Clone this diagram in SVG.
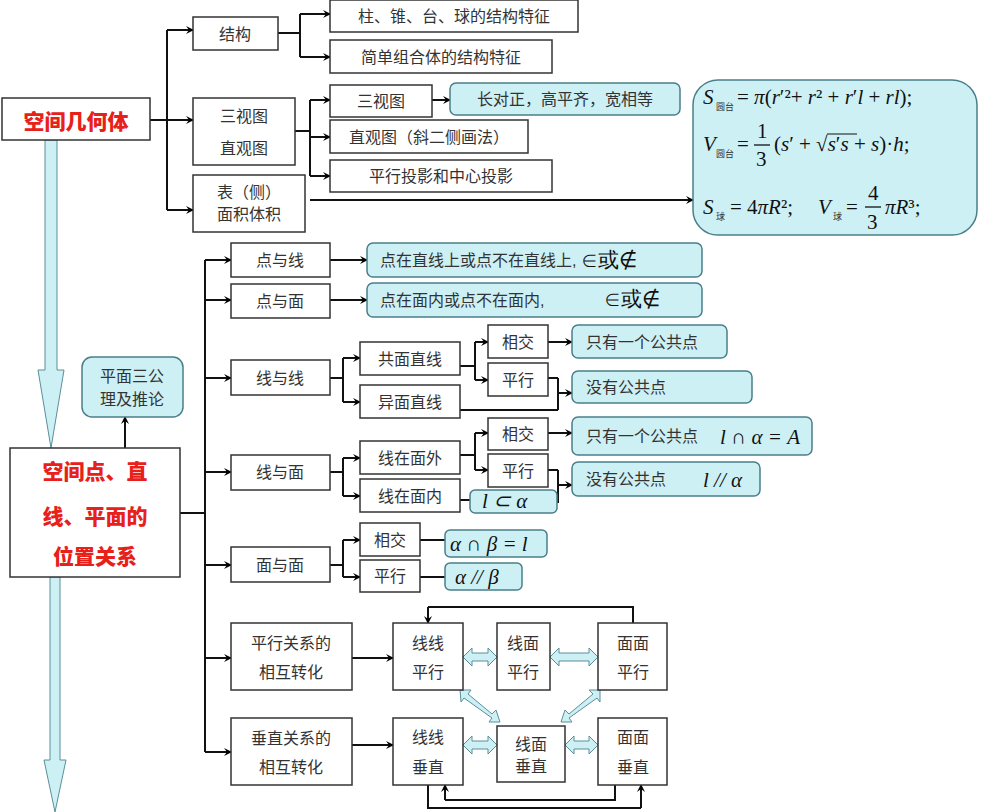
<svg xmlns="http://www.w3.org/2000/svg" width="1000" height="812" viewBox="0 0 1000 812">
<defs>
<marker id="ah" markerWidth="10" markerHeight="10" refX="8" refY="5" orient="auto" markerUnits="userSpaceOnUse">
<path d="M1,1 L9,5 L1,9 L4,5 Z" fill="#000"/>
</marker>
<style>
.b{fill:#fff;stroke:#333;stroke-width:1.5}
.c{fill:#cdf0f5;stroke:#4a7f8a;stroke-width:1.5}
.t{font-family:"Liberation Sans","Noto Sans CJK SC",sans-serif;font-size:16px;fill:#333;text-anchor:middle;dominant-baseline:central}
.tl{font-family:"Liberation Sans","Noto Sans CJK SC",sans-serif;font-size:16px;fill:#333;dominant-baseline:central}
.r{font-family:"Noto Sans CJK SC",sans-serif;font-weight:900;font-size:21px;fill:#e8201a;text-anchor:middle;dominant-baseline:central}
.m{font-family:"Liberation Serif",serif;font-style:italic;font-size:21px;fill:#111}
.mn{font-family:"Liberation Serif",serif;font-size:21px;fill:#111}
.sub{font-family:"Noto Sans CJK SC",sans-serif;font-size:9px;fill:#333}
.l{fill:none;stroke:#111;stroke-width:2}
.la{fill:none;stroke:#111;stroke-width:2;marker-end:url(#ah)}
.ba{fill:#cdf0f5;stroke:#5a8f9a;stroke-width:1}
</style>
</defs>

<g id="bigarrows">
<path class="ba" d="M45,140 L57,140 L57,370 L64,370 L51,448 L38,370 L45,370 Z"/>
<path class="ba" d="M50,577 L60,577 L60,760 L66,760 L55,812 L44,760 L50,760 Z"/>
</g>

<g id="connectors">
<path class="l" d="M150,120 H167 M167,30 V210"/>
<path class="la" d="M167,30 H193"/><path class="la" d="M167,120 H193"/><path class="la" d="M167,210 H193"/>
<path class="l" d="M278,33 H300 M300,14 V57"/>
<path class="la" d="M300,14 H330"/><path class="la" d="M300,57 H330"/>
<path class="l" d="M295,131 H310 M310,100 V176"/>
<path class="la" d="M310,100 H330"/><path class="la" d="M310,137 H330"/><path class="la" d="M310,176 H330"/>
<path class="la" d="M432,100 H450"/>
<path class="la" d="M310,200 H693"/>
<path class="la" d="M125,448 V417"/>
<path class="l" d="M180,513 H205 M205,260 V752"/>
<path class="la" d="M205,260 H231"/><path class="la" d="M205,300 H231"/><path class="la" d="M205,378 H231"/>
<path class="la" d="M205,472 H231"/><path class="la" d="M205,565 H231"/><path class="la" d="M205,658 H231"/><path class="la" d="M205,752 H231"/>
<path class="la" d="M330,260 H367"/><path class="la" d="M330,300 H367"/>
<path class="l" d="M330,378 H343 M343,358 V402"/>
<path class="la" d="M343,358 H360"/><path class="la" d="M343,402 H360"/>
<path class="l" d="M460,366 H475 M475,342 V380"/>
<path class="la" d="M475,342 H488"/><path class="la" d="M475,380 H488"/>
<path class="la" d="M548,342 H572"/>
<path class="l" d="M548,378 H558 M460,410 H558 M558,378 V410"/>
<path class="la" d="M558,393 H572"/>
<path class="l" d="M330,472 H343 M343,458 V496"/>
<path class="la" d="M343,458 H360"/><path class="la" d="M343,496 H360"/>
<path class="l" d="M460,455 H475 M475,433 V470"/>
<path class="la" d="M475,433 H488"/><path class="la" d="M475,470 H488"/>
<path class="la" d="M548,433 H572"/>
<path class="l" d="M548,470 H558 M558,470 V503"/>
<path class="la" d="M558,485 H572"/>
<path class="l" d="M460,500 H470"/>
<path class="l" d="M330,565 H343 M343,540 V577"/>
<path class="la" d="M343,540 H360"/><path class="la" d="M343,577 H360"/>
<path class="l" d="M420,540 H445 M420,577 H445"/>
<path class="la" d="M352,658 H393"/><path class="la" d="M352,745 H393"/>
<path class="l" d="M633,623 V607 H428"/><path class="la" d="M428,607 V623"/>
<path class="l" d="M428,785 V808 H641"/><path class="la" d="M641,808 V785"/>
<path class="l" d="M615,785 V800 H445"/><path class="la" d="M445,800 V785"/>
<g fill="#cdf0f5" stroke="#5a8f9a" stroke-width="1">
<path d="M463,657 L472,648 L472,653 L488,653 L488,648 L497,657 L488,666 L488,661 L472,661 L472,666 Z"/>
<path d="M550,657 L559,648 L559,653 L589,653 L589,648 L598,657 L589,666 L589,661 L559,661 L559,666 Z"/>
<path d="M463,745 L472,736 L472,741 L488,741 L488,736 L497,745 L488,754 L488,749 L472,749 L472,754 Z"/>
<path d="M565,745 L574,736 L574,741 L589,741 L589,736 L598,745 L589,754 L589,749 L574,749 L574,754 Z"/>
<path d="M460,690 L471,690 L468,694 L492,714 L496,710 L500,722 L489,722 L492,718 L464,698 L461,702 Z"/>
<path d="M600,690 L600,702 L597,698 L569,718 L572,722 L561,722 L565,710 L569,714 L593,694 L589,690 Z"/>
</g>
</g>

<g id="n-kjjht"><rect class="b" x="2" y="98" width="148" height="42"/><text class="r" x="76" y="120">空间几何体</text></g>
<g id="n-jg"><rect class="b" x="193" y="17" width="85" height="33"/><text class="t" x="235" y="34">结构</text></g>
<g id="n-zzt"><rect class="b" x="330" y="0" width="248" height="32"/><text class="t" x="454" y="16">柱、锥、台、球的结构特征</text></g>
<g id="n-jdzh"><rect class="b" x="330" y="40" width="222" height="33"/><text class="t" x="441" y="57">简单组合体的结构特征</text></g>
<g id="n-sst"><rect class="b" x="193" y="98" width="102" height="67"/><text class="t" x="244" y="116">三视图</text><text class="t" x="244" y="148">直观图</text></g>
<g id="n-bmj"><rect class="b" x="193" y="175" width="112" height="57"/><text class="t" x="249" y="192">表（侧）</text><text class="t" x="249" y="214">面积体积</text></g>
<g id="n-sst2"><rect class="b" x="330" y="85" width="102" height="32"/><text class="t" x="381" y="101">三视图</text></g>
<g id="n-zgt"><rect class="b" x="330" y="120" width="198" height="33"/><text class="t" x="429" y="137">直观图（斜二侧画法）</text></g>
<g id="n-pxty"><rect class="b" x="330" y="160" width="222" height="32"/><text class="t" x="441" y="176">平行投影和中心投影</text></g>
<g id="n-cdz"><rect class="c" x="450" y="83" width="230" height="32" rx="6"/><text class="t" x="565" y="99">长对正，高平齐，宽相等</text></g>
<g id="n-formula"><rect class="c" x="693" y="80" width="284" height="155" rx="25"/>
<text class="m" x="703" y="104">S</text><text class="sub" x="716" y="110">圆台</text><text class="mn" x="737" y="104">= <tspan class="m">π</tspan>(<tspan class="m">r</tspan>′²+ <tspan class="m">r</tspan>² + <tspan class="m">r</tspan>′<tspan class="m">l</tspan> + <tspan class="m">rl</tspan>);</text>
<text class="m" x="703" y="151">V</text><text class="sub" x="716" y="157">圆台</text><text class="mn" x="737" y="151">=</text>
<text class="mn" x="757" y="138">1</text><path d="M754,145 H770" stroke="#111" stroke-width="1.3"/><text class="mn" x="756" y="166">3</text>
<text class="mn" x="774" y="151">(<tspan class="m">s</tspan>′ + √<tspan class="m">s</tspan>′<tspan class="m">s</tspan> + <tspan class="m">s</tspan>)·<tspan class="m">h</tspan>;</text>
<path d="M827,134 H857" stroke="#111" stroke-width="1"/>
<text class="m" x="703" y="214">S</text><text class="sub" x="716" y="220">球</text><text class="mn" x="730" y="214">= 4<tspan class="m">πR</tspan>²;</text>
<text class="m" x="818" y="214">V</text><text class="sub" x="833" y="220">球</text><text class="mn" x="846" y="214">=</text>
<text class="mn" x="868" y="200">4</text><path d="M865,207 H881" stroke="#111" stroke-width="1.3"/><text class="mn" x="867" y="229">3</text>
<text class="mn" x="885" y="214"><tspan class="m">πR</tspan>³;</text>
</g>

<g id="n-gl"><rect class="c" x="82" y="357" width="101" height="60" rx="10"/><text class="t" x="132" y="376">平面三公</text><text class="t" x="132" y="399">理及推论</text></g>
<g id="n-kjd"><rect class="b" x="10" y="448" width="170" height="129"/><text class="r" x="95" y="470">空间点、直</text><text class="r" x="95" y="515">线、平面的</text><text class="r" x="95" y="555">位置关系</text></g>
<g id="n-dyx"><rect class="b" x="231" y="243" width="99" height="34"/><text class="t" x="280" y="260">点与线</text></g>
<g id="n-dym"><rect class="b" x="231" y="284" width="99" height="34"/><text class="t" x="280" y="301">点与面</text></g>
<g id="n-dyx-c"><rect class="c" x="367" y="243" width="335" height="34" rx="6"/><text class="tl" x="380" y="260">点在直线上或点不在直线上, <tspan class="mn" font-size="19">∈或∉</tspan></text></g>
<g id="n-dym-c"><rect class="c" x="367" y="283" width="335" height="34" rx="6"/><text class="tl" x="380" y="300">点在面内或点不在面内,</text><text class="mn" x="604" y="306" font-size="19">∈或∉</text></g>
<g id="n-xyx"><rect class="b" x="231" y="360" width="99" height="35"/><text class="t" x="280" y="378">线与线</text></g>
<g id="n-gmzx"><rect class="b" x="360" y="342" width="100" height="33"/><text class="t" x="410" y="359">共面直线</text></g>
<g id="n-ymzx"><rect class="b" x="360" y="385" width="100" height="33"/><text class="t" x="410" y="402">异面直线</text></g>
<g id="n-xj1"><rect class="b" x="488" y="325" width="60" height="33"/><text class="t" x="518" y="342">相交</text></g>
<g id="n-px1"><rect class="b" x="488" y="363" width="60" height="33"/><text class="t" x="518" y="380">平行</text></g>
<g id="n-zy1"><rect class="c" x="572" y="325" width="155" height="33" rx="6"/><text class="tl" x="586" y="342">只有一个公共点</text></g>
<g id="n-my1"><rect class="c" x="572" y="371" width="180" height="32" rx="6"/><text class="tl" x="586" y="387">没有公共点</text></g>
<g id="n-xym"><rect class="b" x="231" y="455" width="99" height="35"/><text class="t" x="280" y="472">线与面</text></g>
<g id="n-xzmw"><rect class="b" x="360" y="441" width="100" height="33"/><text class="t" x="410" y="458">线在面外</text></g>
<g id="n-xzmn"><rect class="b" x="360" y="479" width="100" height="33"/><text class="t" x="410" y="496">线在面内</text></g>
<g id="n-xj2"><rect class="b" x="488" y="418" width="60" height="32"/><text class="t" x="518" y="434">相交</text></g>
<g id="n-px2"><rect class="b" x="488" y="454" width="60" height="33"/><text class="t" x="518" y="471">平行</text></g>
<g id="n-zy2"><rect class="c" x="572" y="417" width="240" height="38" rx="6"/><text class="tl" x="586" y="436">只有一个公共点</text><text class="m" x="720" y="444" font-size="23">l ∩ α = A</text></g>
<g id="n-my2"><rect class="c" x="572" y="462" width="188" height="34" rx="6"/><text class="tl" x="586" y="479">没有公共点</text><text class="m" x="703" y="487" font-size="23">l // α</text></g>
<g id="n-lca"><rect class="c" x="470" y="490" width="87" height="23" rx="5"/><text class="m" x="482" y="508" font-size="22">l ⊂ α</text></g>
<g id="n-mym"><rect class="b" x="231" y="547" width="99" height="35"/><text class="t" x="280" y="565">面与面</text></g>
<g id="n-xj3"><rect class="b" x="360" y="523" width="60" height="33"/><text class="t" x="390" y="540">相交</text></g>
<g id="n-px3"><rect class="b" x="360" y="560" width="60" height="32"/><text class="t" x="390" y="576">平行</text></g>
<g id="n-abl"><rect class="c" x="445" y="530" width="102" height="27" rx="5"/><text class="m" x="450" y="551" font-size="22">α ∩ β = l</text></g>
<g id="n-apb"><rect class="c" x="445" y="563" width="77" height="27" rx="5"/><text class="m" x="455" y="584" font-size="22">α // β</text></g>
<g id="n-pxzh"><rect class="b" x="231" y="623" width="121" height="67"/><text class="t" x="291" y="643">平行关系的</text><text class="t" x="291" y="672">相互转化</text></g>
<g id="n-czzh"><rect class="b" x="231" y="718" width="121" height="67"/><text class="t" x="291" y="738">垂直关系的</text><text class="t" x="291" y="767">相互转化</text></g>
<g id="n-xxpx"><rect class="b" x="393" y="623" width="70" height="67"/><text class="t" x="428" y="643">线线</text><text class="t" x="428" y="672">平行</text></g>
<g id="n-xmpx"><rect class="b" x="497" y="623" width="53" height="67"/><text class="t" x="523" y="643">线面</text><text class="t" x="523" y="672">平行</text></g>
<g id="n-mmpx"><rect class="b" x="598" y="623" width="69" height="67"/><text class="t" x="633" y="643">面面</text><text class="t" x="633" y="672">平行</text></g>
<g id="n-xxcz"><rect class="b" x="393" y="718" width="70" height="67"/><text class="t" x="428" y="737">线线</text><text class="t" x="428" y="767">垂直</text></g>
<g id="n-xmcz"><rect class="b" x="497" y="726" width="68" height="56"/><text class="t" x="531" y="744">线面</text><text class="t" x="531" y="766">垂直</text></g>
<g id="n-mmcz"><rect class="b" x="598" y="718" width="69" height="67"/><text class="t" x="633" y="737">面面</text><text class="t" x="633" y="767">垂直</text></g>
</svg>
